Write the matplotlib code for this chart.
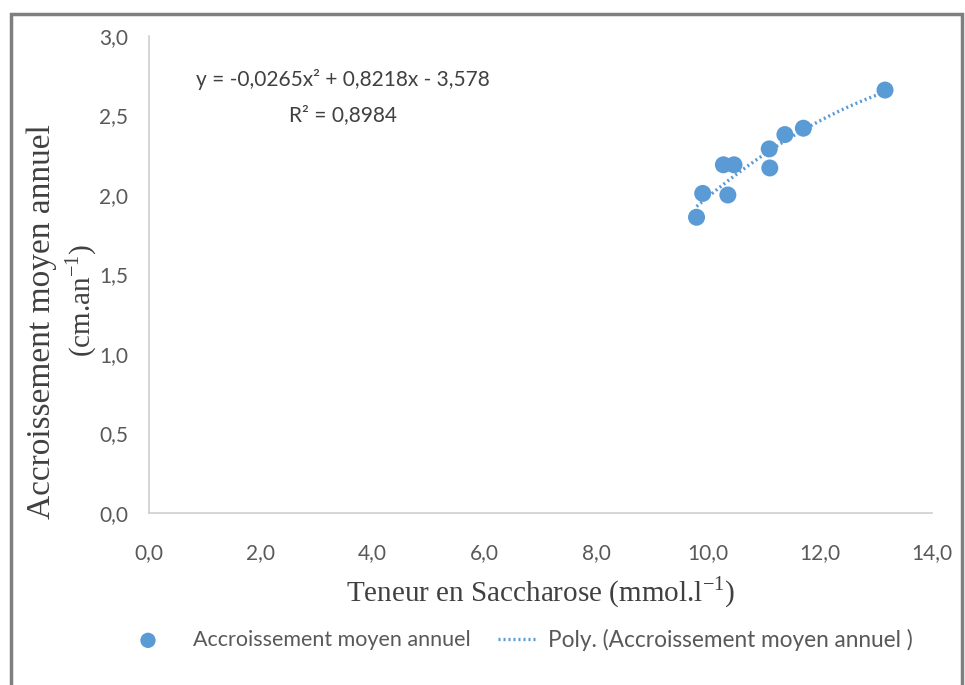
import matplotlib
matplotlib.use("Agg")
import matplotlib.pyplot as plt
from matplotlib.patches import Rectangle
import numpy as np

# Data
saccharose = [9.79, 9.90, 10.35, 10.27, 10.46, 11.10, 11.09, 11.37, 11.70, 13.16]
accroissement = [1.86, 2.01, 2.00, 2.19, 2.19, 2.17, 2.29, 2.38, 2.42, 2.66]
poly_coefs = [-0.0265, 0.8218, -3.578]
x_ticks = [0, 2, 4, 6, 8, 10, 12, 14]
y_ticks = [0, 0.5, 1.0, 1.5, 2.0, 2.5, 3.0]
equation_text = "y = -0,0265x² + 0,8218x - 3,578"
r2_text = "R² = 0,8984"

blue = "#5B9BD5"
tick_col = "#595959"
sans = ["Lato", "DejaVu Sans"]
serif = ["Liberation Serif", "DejaVu Serif"]

fig = plt.figure(figsize=(9.65, 6.85), dpi=100)
ax = fig.add_axes([149/965, 1-513/685, (932-149)/965, (513-36)/685])

sc = ax.scatter(saccharose, accroissement, s=150, color=blue, zorder=3,
                label="Accroissement moyen annuel", edgecolors="none")
xx = np.linspace(min(saccharose), max(saccharose), 200)
ln, = ax.plot(xx, np.polyval(poly_coefs, xx), linestyle=(0, (0.6, 0.9)), color=blue,
              linewidth=2.4, label="Poly. (Accroissement moyen annuel )", zorder=2)

ax.set_xlim(0, 14)
ax.set_ylim(0, 3.0)
ax.set_xticks(x_ticks)
ax.set_yticks(y_ticks)
ax.set_xticklabels([f"{v:.1f}".replace(".", ",") for v in x_ticks],
                   fontsize=15, color=tick_col, family=sans)
ax.set_yticklabels([f"{v:.1f}".replace(".", ",") for v in y_ticks],
                   fontsize=15, color=tick_col, family=sans)
ax.tick_params(axis="x", length=0, pad=22)
ax.tick_params(axis="y", length=0, pad=15)
for s in ["top", "right"]:
    ax.spines[s].set_visible(False)
for s in ["left", "bottom"]:
    ax.spines[s].set_color("#D0D0D0")
    ax.spines[s].set_linewidth(1.2)

ax.set_xlabel("Teneur en Saccharose (mmol.l$^{\\mathregular{-1}}$)", fontsize=21,
              family=serif, color="#404040", labelpad=8)
fig.text(42/965, 1-322/685, "Accroissement moyen annuel", rotation=90,
         ha="center", va="center", fontsize=24, family=serif, color="#404040")
fig.text(81/965, 1-300/685, "(cm.an$^{\\mathregular{-1}}$)", rotation=90,
         ha="center", va="center", fontsize=21, family=serif, color="#404040")

fig.text(343/965, 1-80/685, equation_text, ha="center", va="center",
         fontsize=15, family=sans, color="#404040")
fig.text(343/965, 1-115/685, r2_text, ha="center", va="center",
         fontsize=15, family=sans, color="#404040")

leg1 = fig.legend(handles=[sc], loc="center left",
                  bbox_to_anchor=(120/965, 1-640/685),
                  frameon=False, prop={"family": sans, "size": 15.5},
                  handlelength=1.6, handletextpad=1.3, borderpad=0.0,
                  markerscale=0.9)
leg2 = fig.legend(handles=[ln], loc="center left",
                  bbox_to_anchor=(487/965, 1-640/685),
                  frameon=False, prop={"family": sans, "size": 16.3},
                  handlelength=1.75, handletextpad=0.45, borderpad=0.0)
for lg in (leg1, leg2):
    for t in lg.get_texts():
        t.set_color(tick_col)

fig.patches.append(Rectangle((11/965, -0.05), (962-11)/965, 1.05 - 14/685,
                             transform=fig.transFigure, fill=False,
                             edgecolor="#7F7F7F", linewidth=2.5))

fig.savefig("out.png", dpi=100)
